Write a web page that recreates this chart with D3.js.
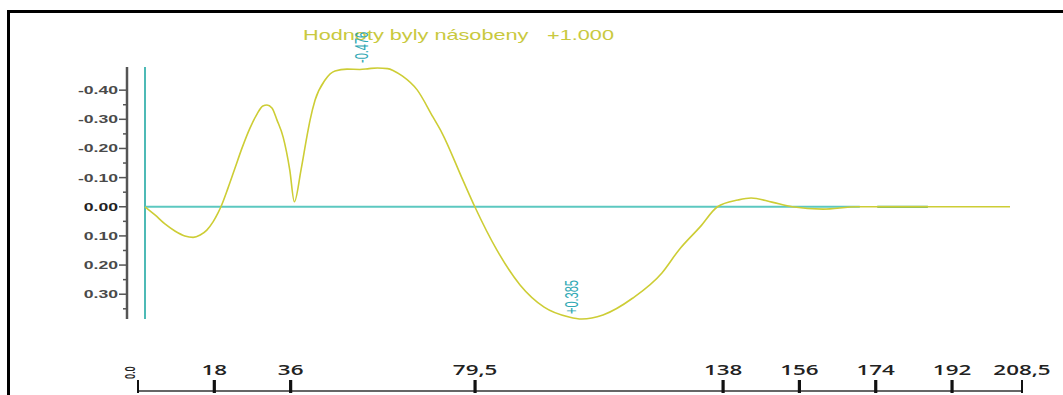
<!DOCTYPE html>
<html>
<head>
<meta charset="utf-8">
<script src="https://cdn.jsdelivr.net/npm/d3@7"></script>
<style>
  body { margin: 0; background: #fff; }
  svg { display: block; }
</style>
</head>
<body>
<svg width="1063" height="395"></svg>
<script>
// curve samples (x in the same units as the bottom scale, y = value, positive drawn downwards)
var curveX = [0, 2.4, 4.8, 7.2, 9.6, 11.6, 13.3, 14.9, 16.4, 17.6, 18.3, 20.0, 21.7, 23.4, 25.3, 27.0, 28.4, 29.4, 30.6, 31.8, 33.3, 34.9, 36.0, 37.6, 39.0, 39.8, 41.0, 43.4, 45.8, 48.7, 51.8, 54.0, 56.0, 58.5, 60.0, 62.0, 65.6, 69.4, 71.6, 76.6, 79.5, 84.8, 90.4, 96.2, 102.2, 105.3, 110.4, 117.6, 124.6, 128.7, 133.8, 138.0, 142.9, 146.1, 151.1, 156.0, 163.4, 171.6, 180, 190, 200, 208.5];
var curveY = [0, 0.028, 0.059, 0.083, 0.100, 0.105, 0.097, 0.080, 0.052, 0.021, 0, -0.064, -0.133, -0.202, -0.270, -0.318, -0.346, -0.349, -0.339, -0.298, -0.239, -0.126, -0.017, -0.126, -0.239, -0.298, -0.366, -0.435, -0.466, -0.472, -0.471, -0.474, -0.476, -0.474, -0.466, -0.449, -0.401, -0.308, -0.253, -0.092, 0, 0.148, 0.268, 0.344, 0.378, 0.385, 0.371, 0.313, 0.227, 0.148, 0.069, 0, -0.023, -0.030, -0.016, 0, 0.008, 0, 0, 0, 0, 0];

var peakLabels = ["-0.476", "+0.385"];
var peakX = [52.3, 102.9];
var peakY = [-0.476, 0.385];

var yMajor = [-0.4, -0.3, -0.2, -0.1, 0, 0.1, 0.2, 0.3];
var yMinor = [-0.35, -0.25, -0.15, -0.05, 0.05, 0.15, 0.25, 0.35];

var bottomTicks = [0, 18, 36, 79.5, 138, 156, 174, 192, 208.5];
var bottomLabels = ["0.0", "18", "36", "79,5", "138", "156", "174", "192", "208,5"];

var zeroLineEnd = 172.3;
var greenSeg = [176.5, 188.7];

var titleText = "Hodnoty byly násobeny";
var factorText = "+1.000";

var svg = d3.select("svg");

var x = d3.scaleLinear().domain([0, 208.5]).range([145, 1010]);
var y = d3.scaleLinear().domain([-0.476, 0.385]).range([68, 319]);
var xb = d3.scaleLinear().domain([0, 208.5]).range([138, 1022]);

// the whole picture is stretched sideways, so text gets a horizontal scale
function stretchText(parent, px, py, str, sx, rot) {
  var g = parent.append("g")
    .attr("transform", "translate(" + px + "," + py + ") scale(" + sx + ",1)" + (rot ? " rotate(-90)" : ""));
  return g.append("text").text(str);
}

// frame
svg.append("path")
  .attr("d", "M8.5,395 V11.5 H1063")
  .attr("fill", "none")
  .attr("stroke", "#000")
  .attr("stroke-width", 3);

// title
stretchText(svg, 303, 40, titleText, 1.55)
  .attr("font-family", "Liberation Sans, Arial, sans-serif")
  .attr("font-size", 14)
  .attr("fill", "#c9c93e");
stretchText(svg, 547, 40, factorText, 1.55)
  .attr("font-family", "Liberation Sans, Arial, sans-serif")
  .attr("font-size", 14)
  .attr("fill", "#c9c93e");

// y axis
var yAxisX = 127;
svg.append("line")
  .attr("x1", yAxisX).attr("x2", yAxisX)
  .attr("y1", y.range()[0] - 1).attr("y2", y.range()[1])
  .attr("stroke", "#555").attr("stroke-width", 2.5);

svg.selectAll(".minor")
  .data(yMinor)
  .enter().append("line")
  .attr("class", "minor")
  .attr("x1", yAxisX - 4).attr("x2", yAxisX)
  .attr("y1", function(d) { return y(d); })
  .attr("y2", function(d) { return y(d); })
  .attr("stroke", "#555").attr("stroke-width", 1.5);

svg.selectAll(".major")
  .data(yMajor)
  .enter().append("line")
  .attr("class", "major")
  .attr("x1", yAxisX - 8).attr("x2", yAxisX)
  .attr("y1", function(d) { return y(d); })
  .attr("y2", function(d) { return y(d); })
  .attr("stroke", "#555").attr("stroke-width", 1.5);

yMajor.forEach(function(v) {
  stretchText(svg, yAxisX - 9, y(v) + 4, v.toFixed(2), 1.6)
    .attr("text-anchor", "end")
    .attr("font-family", "Liberation Sans, Arial, sans-serif")
    .attr("font-weight", "bold")
    .attr("font-size", 11)
    .attr("fill", v === 0 ? "#222" : "#4a4a4a");
});

// teal reference lines
svg.append("line")
  .attr("x1", x(0)).attr("x2", x(0))
  .attr("y1", y.range()[0] - 1).attr("y2", y.range()[1])
  .attr("stroke", "#4dbab6").attr("stroke-width", 2);

svg.append("line")
  .attr("x1", x(0)).attr("x2", x(zeroLineEnd))
  .attr("y1", y(0)).attr("y2", y(0))
  .attr("stroke", "#5cc8c0").attr("stroke-width", 1.8);

svg.append("line")
  .attr("x1", x(greenSeg[0])).attr("x2", x(greenSeg[1]))
  .attr("y1", y(0)).attr("y2", y(0))
  .attr("stroke", "#3fa44a").attr("stroke-width", 2);

// curve
var pts = curveX.map(function(d, i) { return [d, curveY[i]]; });
var line = d3.line()
  .x(function(d) { return x(d[0]); })
  .y(function(d) { return y(d[1]); })
  .curve(d3.curveMonotoneX);

svg.append("path")
  .datum(pts)
  .attr("d", line)
  .attr("fill", "none")
  .attr("stroke", "#cdcd35")
  .attr("stroke-width", 1.6);

// peak annotations
peakLabels.forEach(function(lbl, i) {
  stretchText(svg, x(peakX[i]), y(peakY[i]) - 5, lbl, 1.6, true)
    .attr("dy", "0.35em")
    .attr("font-family", "Liberation Sans, Arial, sans-serif")
    .attr("font-size", 11)
    .attr("fill", "#2fa8b4");
});

// bottom scale
var baseY = 391;
svg.append("line")
  .attr("x1", xb(0)).attr("x2", xb(208.5))
  .attr("y1", baseY).attr("y2", baseY)
  .attr("stroke", "#333").attr("stroke-width", 1.5);

svg.selectAll(".btick")
  .data(bottomTicks)
  .enter().append("line")
  .attr("class", "btick")
  .attr("x1", function(d) { return xb(d); })
  .attr("x2", function(d) { return xb(d); })
  .attr("y1", 380).attr("y2", 393)
  .attr("stroke", "#111")
  .attr("stroke-width", function(d, i) { return (i === 0 || i === bottomTicks.length - 1) ? 2 : 3.2; });

bottomTicks.forEach(function(v, i) {
  if (i === 0) {
    stretchText(svg, xb(v) - 8, 379, bottomLabels[i], 1.5, true)
      .attr("dy", "0.35em")
      .attr("font-family", "Open Sans, sans-serif")
      .attr("font-weight", 600)
      .attr("font-size", 9)
      .attr("fill", "#222");
  } else {
    stretchText(svg, xb(v), 375, bottomLabels[i], 1.6)
      .attr("text-anchor", "middle")
      .attr("font-family", "Open Sans, sans-serif")
      .attr("font-weight", 600)
      .attr("font-size", 14)
      .attr("fill", "#222");
  }
});
</script>
</body>
</html>
